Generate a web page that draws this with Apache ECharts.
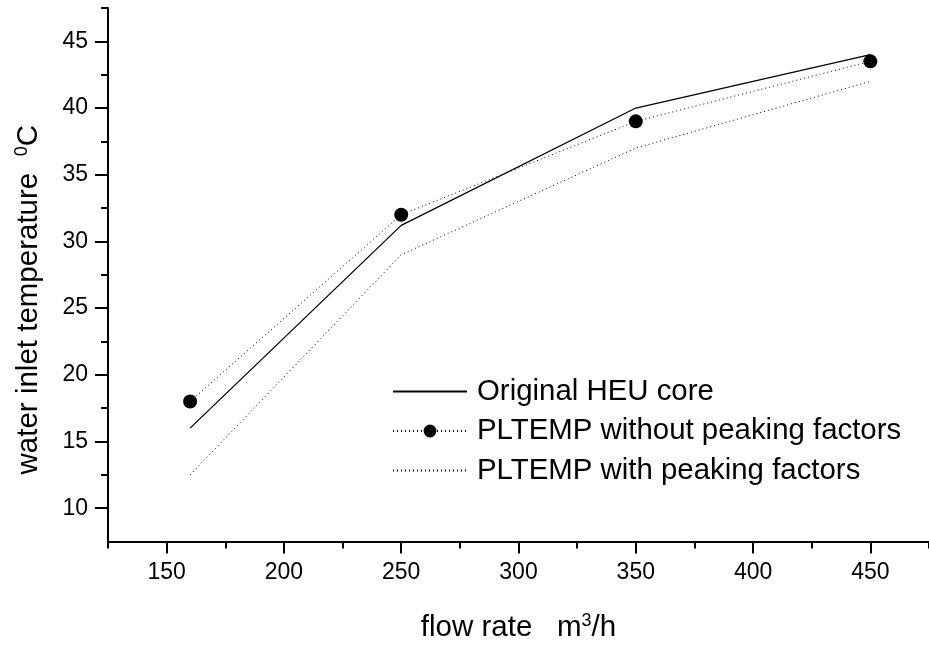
<!DOCTYPE html>
<html>
<head>
<meta charset="utf-8">
<script src="https://cdn.jsdelivr.net/npm/echarts@6/dist/echarts.min.js"></script>
<style>html,body{margin:0;padding:0;background:#fff}#c{width:929px;height:648px}</style>
</head>
<body>
<div id="c"></div>
<script>
const flowRate = [160, 250, 350, 450];
const originalHEU = [16.0, 31.2, 40.0, 44.0];
const pltempWithout = [18.0, 32.0, 39.0, 43.5];
const pltempWith = [12.5, 29.0, 37.0, 42.0];
const xMajorTicks = [150, 200, 250, 300, 350, 400, 450];
const xMinorTicks = [125, 175, 225, 275, 325, 375, 425, 475];
const yMajorTicks = [10, 15, 20, 25, 30, 35, 40, 45];
const yMinorTicks = [12.5, 17.5, 22.5, 27.5, 32.5, 37.5, 42.5, 47.5];

const pairs = ys => flowRate.map((x, i) => [x, ys[i]]);
const FONT = '"Liberation Sans", Arial, sans-serif';
const hidden = {color: 'rgba(0,0,0,0)', borderWidth: 0};

const chart = echarts.init(document.getElementById('c'), null, {renderer: 'canvas'});
chart.setOption({
  animation: false,
  backgroundColor: '#fff',
  grid: {left: 108, width: 826, top: 8, height: 539.3, containLabel: false},
  legend: {
    orient: 'vertical',
    left: 392,
    top: 377,
    padding: 0,
    itemWidth: 74,
    itemHeight: 16,
    itemGap: 10.5,
    textStyle: {fontFamily: FONT, fontSize: 29.4, color: '#000', padding: [0, 0, 0, 5]},
    data: [
      {name: 'Original HEU core', itemStyle: hidden},
      {name: 'PLTEMP without peaking factors'},
      {name: 'PLTEMP with peaking factors', itemStyle: hidden}
    ]
  },
  xAxis: [{
    type: 'value', min: 125, max: 475, interval: 25,
    position: 'bottom',
    name: 'flow rate   m{sup|3}/h',
    nameLocation: 'middle', nameGap: 71,
    nameTextStyle: {fontFamily: FONT, fontSize: 29.5, color: '#000',
      rich: {sup: {fontFamily: FONT, fontSize: 18, color: '#000', padding: [0, 0, 13, 0]}}},
    axisLine: {show: true, lineStyle: {color: '#000', width: 2}},
    axisTick: {show: true, length: 12, lineStyle: {color: '#000', width: 2}, customValues: xMajorTicks},
    axisLabel: {show: true, margin: 20, fontFamily: FONT, fontSize: 23, color: '#000', customValues: xMajorTicks},
    splitLine: {show: false}
  }, {
    type: 'value', min: 125, max: 475, interval: 25,
    position: 'bottom', offset: 0,
    axisLine: {show: false},
    axisTick: {show: true, length: 7, lineStyle: {color: '#000', width: 2}, customValues: xMinorTicks},
    axisLabel: {show: false},
    splitLine: {show: false}
  }],
  yAxis: [{
    type: 'value', min: 7.5, max: 47.5, interval: 2.5,
    position: 'left',
    name: 'water inlet temperature  {sup|0}C',
    nameLocation: 'middle', nameRotate: 90, nameGap: 64,
    nameTextStyle: {fontFamily: FONT, fontSize: 29.5, color: '#000', padding: [0, 50, 0, 0],
      rich: {sup: {fontFamily: FONT, fontSize: 18, color: '#000', padding: [0, 0, 13, 0]}}},
    axisLine: {show: true, lineStyle: {color: '#000', width: 2}},
    axisTick: {show: true, length: 13, lineStyle: {color: '#000', width: 2}, customValues: yMajorTicks},
    axisLabel: {show: true, margin: 20, fontFamily: FONT, fontSize: 23, color: '#000', customValues: yMajorTicks},
    splitLine: {show: false}
  }, {
    type: 'value', min: 7.5, max: 47.5, interval: 2.5,
    position: 'left', offset: 0,
    axisLine: {show: false},
    axisTick: {show: true, length: 7, lineStyle: {color: '#000', width: 2}, customValues: yMinorTicks},
    axisLabel: {show: false},
    splitLine: {show: false}
  }],
  series: [{
    name: 'Original HEU core', type: 'line',
    data: pairs(originalHEU),
    symbol: 'none', showSymbol: false,
    lineStyle: {color: '#000', width: 1.3, type: 'solid'},
    itemStyle: {color: '#000'}
  }, {
    name: 'PLTEMP without peaking factors', type: 'line',
    data: pairs(pltempWithout),
    symbol: 'circle', symbolSize: 14, showSymbol: true,
    lineStyle: {color: '#000', width: 1, type: [1, 3]},
    itemStyle: {color: '#000', borderWidth: 0}
  }, {
    name: 'PLTEMP with peaking factors', type: 'line',
    data: pairs(pltempWith),
    symbol: 'none', showSymbol: false,
    lineStyle: {color: '#000', width: 1, type: [1, 3]},
    itemStyle: {color: '#000'}
  }]
});
</script>
</body>
</html>
